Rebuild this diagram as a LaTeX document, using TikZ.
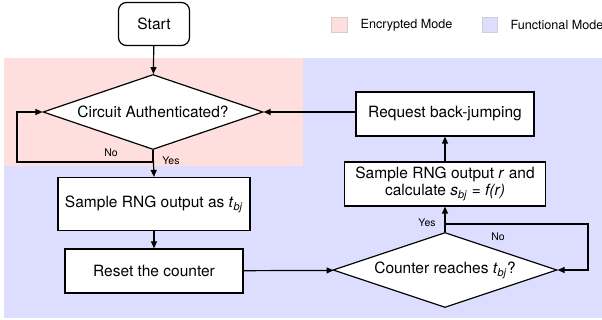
\documentclass[tikz,border=0pt]{standalone}
\usepackage{fontspec}
\setmainfont{TeX Gyre Heros}
\usetikzlibrary{shapes.geometric,arrows.meta}
\definecolor{encpink}{HTML}{FFDEDE}
\definecolor{funblue}{HTML}{DDDEFF}
\definecolor{legline}{HTML}{D0D0D0}
\newcommand{\tbj}{\textit{t}\textsubscript{\textit{bj}}}
\newcommand{\sbj}{\textit{s}\textsubscript{\textit{bj}}}
\begin{document}
\begin{tikzpicture}[x=1pt,y=-1pt,
  font=\fontsize{15.5}{19}\selectfont,
  every path/.style={line width=1.2pt},
  procbox/.style={draw=black,fill=white,rectangle,inner sep=0pt,align=center},
  decision/.style={draw=black,fill=white,diamond,aspect=2.9,inner sep=0pt,minimum width=#1,minimum height=75pt},
  flow/.style={draw=black,-{Triangle[length=7pt,width=6pt]}},
  plain/.style={draw=black},
  lbl/.style={font=\fontsize{10.5}{12}\selectfont,inner sep=0pt},
  legtext/.style={font=\fontsize{12.6}{15}\selectfont,inner sep=0pt,anchor=west},
  legbox/.style={draw=legline,line width=0.6pt}]
\useasboundingbox (0,0) rectangle (602,320);

% mode regions
\fill[funblue] (4,58) rectangle (602,318);
\fill[encpink] (4,58) rectangle (303,166);

% legend
\filldraw[legbox,fill=encpink] (331,17) rectangle (347,32);
\node[legtext] (legenc) at (360,25) {Encrypted Mode};
\filldraw[legbox,fill=funblue] (482,17) rectangle (497,32);
\node[legtext] (legfun) at (510,25) {Functional Mode};

% nodes
\node[procbox,rounded corners=8pt,minimum width=71pt,minimum height=43pt] (start) at (154,24) {Start};
\node[decision=220pt] (auth) at (153,112) {Circuit Authenticated?};
\node[procbox,minimum width=192pt,minimum height=53pt] (sample) at (154,204) {Sample RNG output as \tbj};
\node[procbox,minimum width=178pt,minimum height=44pt] (reset) at (154,271) {Reset the counter};
\node[decision=224pt] (reach) at (445,270) {Counter reaches \tbj?};
\node[procbox,minimum width=201pt,minimum height=44pt,font=\fontsize{15.5}{17.5}\selectfont] (calc) at (445,184)
  {Sample RNG output \textit{r} and\\calculate \sbj\ = \textit{f(r)}};
\node[procbox,minimum width=178pt,minimum height=44pt] (req) at (445,114) {Request back-jumping};

\coordinate (noL) at (17,162);
\coordinate (noR) at (588,224);

% connectors
\draw[flow] (start) -- (auth);
\draw[flow] (auth.south) -- (sample.north);
\draw[flow] (auth.south) -- (auth.south |- noL) -- (noL) |- (auth.west);
\draw[flow] (sample) -- (reset);
\draw[flow] (reset) -- (reach);
\draw[flow] (reach.north) -- (calc.south);
\draw[flow] (reach.north) -- (reach.north |- noR) -- (noR) |- (reach.east);
\draw[flow] (calc) -- (req);
\draw[flow] (req.west |- auth.east) -- (auth.east);

% branch labels
\node[lbl] (ynA) at (111,153) {No};
\node[lbl] (yesA) at (171,161) {Yes};
\node[lbl] (yesB) at (427,223) {Yes};
\node[lbl] (noB) at (498,237) {No};
\end{tikzpicture}
\end{document}
